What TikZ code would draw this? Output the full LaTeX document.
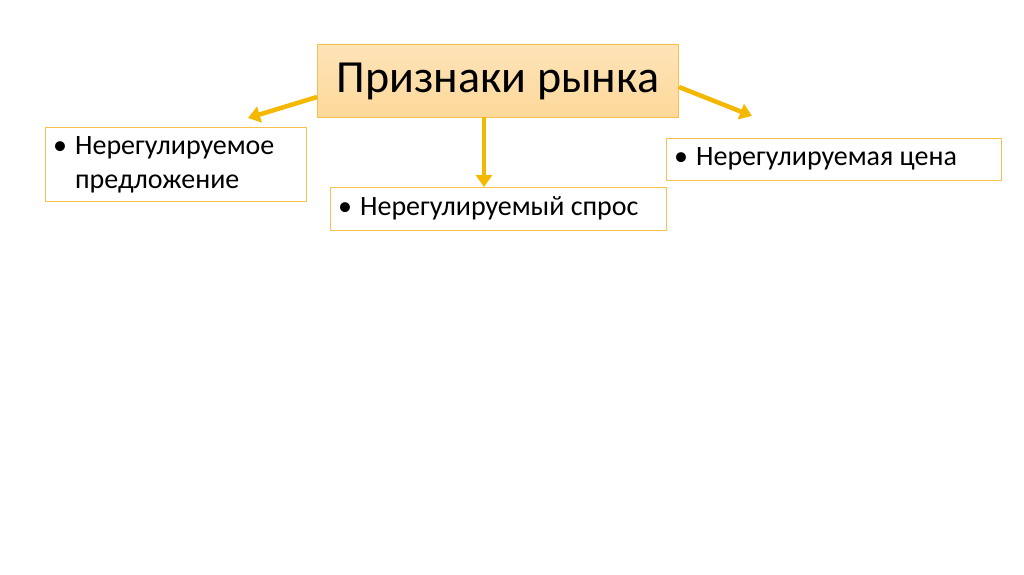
\documentclass[tikz,border=0pt]{standalone}
\usepackage{fontspec}
\setmainfont{Carlito}
\usetikzlibrary{arrows.meta}
\definecolor{bord}{HTML}{F6C04A}
\definecolor{arr}{HTML}{F5B800}
\definecolor{tfill}{HTML}{FDD89A}
\begin{document}
\begin{tikzpicture}[x=1pt,y=-1pt,
  item/.style={draw=bord,line width=1pt,fill=white,anchor=north west,inner sep=0pt},
  txt/.style={font=\fontsize{28}{34}\selectfont,inner sep=0pt},
  conn/.style={arr,line width=4.5pt,-{Triangle[length=12pt,width=16pt]}}]
\useasboundingbox (0,0) rectangle (1024,574);
\node[draw=bord,line width=1pt,top color=tfill!70,bottom color=tfill,minimum width=361pt,minimum height=73pt,anchor=north west,inner sep=0pt,font=\fontsize{46}{50}\selectfont] (t) at (317,44) {Признаки рынка};
\node[item,minimum width=261pt,minimum height=74pt] (l) at (45,127) {};
\node[txt,anchor=north west,align=left] (lt) at (53,136) {•\hspace{8pt}Нерегулируемое\\\phantom{•}\hspace{8pt}предложение};
\node[item,minimum width=336pt,minimum height=43pt] (m) at (330,187) {};
\node[txt,anchor=west] (mt) at (338,208.5) {•\hspace{8pt}Нерегулируемый спрос};
\node[item,minimum width=335pt,minimum height=42pt] (r) at (666,138) {};
\node[txt,anchor=west] (rt) at (674,159) {•\hspace{8pt}Нерегулируемая цена};
\coordinate (la) at (248,118);
\coordinate (ra) at (752,116);
\draw[conn] (t.west|-0,97) -- (la);
\draw[conn] (484,117) -- (m.north-|484,0);
\draw[conn] (t.east|-0,87) -- (ra);
\end{tikzpicture}
\end{document}
